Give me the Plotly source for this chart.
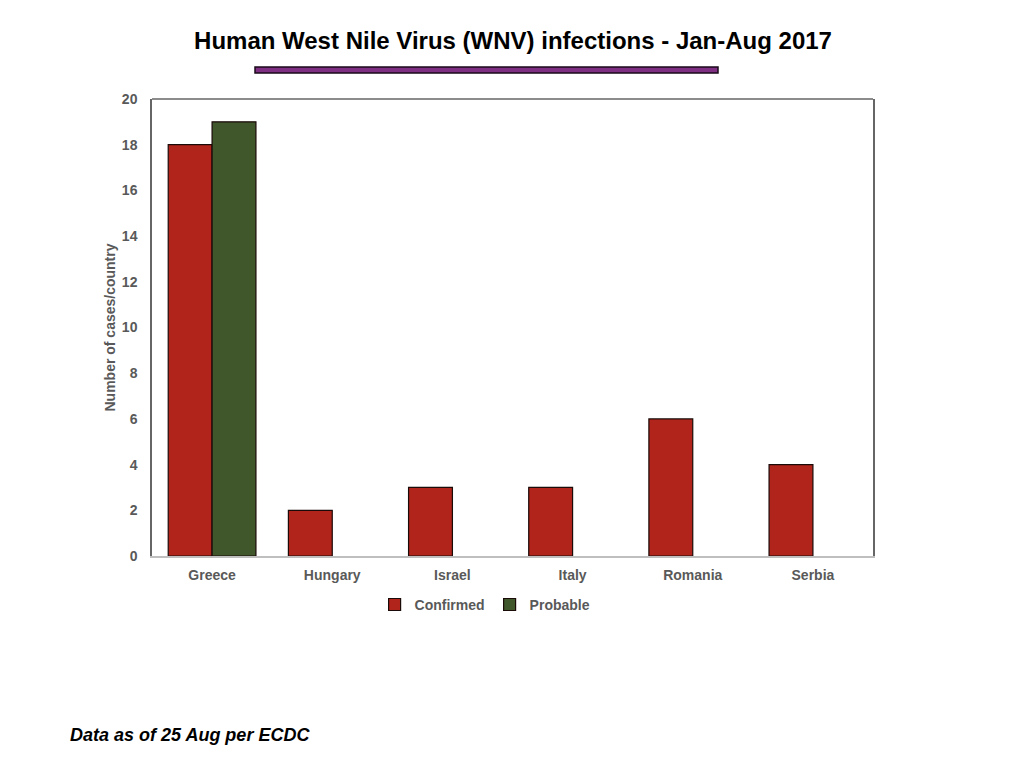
import plotly.graph_objects as go

# Casos de WNV por país (jan-ago 2017)
paises = ["Greece", "Hungary", "Israel", "Italy", "Romania", "Serbia"]
confirmados = [18, 2, 3, 3, 6, 4]
provaveis = [19, None, None, None, None, None]

cinza = "#595959"
fonte = "Liberation Sans"

fig = go.Figure()
fig.add_trace(go.Bar(x=paises, y=confirmados, name="Confirmed",
                     marker=dict(color="#B0241B", line=dict(color="#1a0a08", width=1.2))))
fig.add_trace(go.Bar(x=paises, y=provaveis, name="Probable",
                     marker=dict(color="#3F572A", line=dict(color="#1a0a08", width=1.2))))

# a página desloca tudo 8px, então as margens compensam isso
fig.update_layout(
    width=1024, height=768,
    margin=dict(l=144, r=159, t=91, b=220),
    plot_bgcolor="white", paper_bgcolor="white",
    barmode="group", bargap=0.27, bargroupgap=0,
    font=dict(family=fonte, size=14, color=cinza, weight="bold"),
    title=dict(text="Human West Nile Virus (WNV) infections - Jan-Aug 2017",
               x=(513 - 8) / 1024, xanchor="center", y=1 - 33 / 768, yanchor="middle",
               font=dict(family=fonte, size=24, color="black", weight="bold")),
    legend=dict(orientation="h", x=0.462, xanchor="center", y=-0.107, yanchor="middle",
                font=dict(size=14, color=cinza), itemwidth=30, traceorder="normal"),
    showlegend=True,
)

fig.update_xaxes(showline=True, linecolor="#BFBFBF", linewidth=1.5, ticks="",
                 ticklabelstandoff=5, showgrid=False)
fig.update_yaxes(range=[0, 20], dtick=2, showline=True, linecolor="#666666", linewidth=1.5,
                 mirror=True, ticks="", ticklabelstandoff=10, showgrid=False, zeroline=False,
                 title=dict(text="Number of cases/country", font=dict(size=14, color=cinza), standoff=3))

# borda superior do quadro
fig.add_shape(type="line", xref="paper", yref="paper", x0=0, x1=1, y0=1, y1=1,
              line=dict(color="#666666", width=1.5))

# barra roxa decorativa abaixo do título
fig.add_shape(type="rect", xref="paper", yref="paper",
              x0=(255 - 152) / 721, x1=(718 - 152) / 721,
              y0=(556 - 73) / 457, y1=(556 - 67) / 457,
              fillcolor="#7E2F82", line=dict(color="#1a0a1a", width=1.5))

fig.add_annotation(text="Data as of 25 Aug per ECDC", xref="paper", yref="paper",
                   x=(68 - 152) / 721, xanchor="left", y=(556 - 735) / 457, yanchor="middle",
                   showarrow=False,
                   font=dict(family=fonte, size=18, color="black", weight="bold", style="italic"))

fig.write_html("out.html")
